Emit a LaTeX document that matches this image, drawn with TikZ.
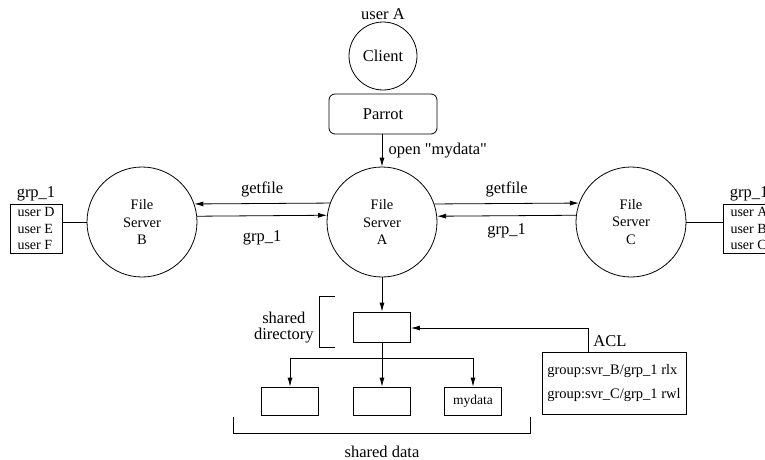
\documentclass[tikz,border=0pt]{standalone}
\usepackage{fontspec}
\setmainfont{Liberation Serif}
\newfontfamily\plainfont{Liberation Serif}
\usetikzlibrary{arrows.meta,positioning}

\begin{document}
\begin{tikzpicture}[x=1pt,y=-1pt,line width=0.8pt,
	every node/.style={font=\fontsize{16.5}{16}\selectfont},
	small/.style={font=\fontsize{14.5}{17.5}\selectfont},
	server/.style={circle,draw,minimum size=110pt,inner sep=0pt,align=center,small},
	users/.style={draw,align=left,minimum width=52pt,minimum height=49pt,inner sep=2pt,font=\fontsize{14}{16.5}\selectfont},
	datbox/.style={draw,minimum width=57pt,minimum height=28pt,inner sep=0pt,font=\fontsize{13.5}{15}\selectfont},
	arr/.style={-{Latex[length=9pt,width=5pt]}}]
	\useasboundingbox (0,0) rectangle (765,460);
	% client side
	\node[circle,draw,minimum size=68pt,inner sep=0pt] (client) at (383,56) {Client};
	\node[above,inner sep=1pt,yshift=1pt] (usera) at (client.north) {user A};
	\node[draw,rounded corners=6pt,minimum width=108pt,minimum height=40pt] (parrot) at (383,114) {Parrot};
	% servers
	\node[server] (srvA) at (382,222) {File\\Server\\A};
	\node[server] (srvB) at (142,222) {File\\Server\\B};
	\node[server] (srvC) at (631,222) {File\\Server\\C};
	\draw[arr] (parrot.south -| srvA) -- node[right,xshift=3pt] {\plainfont open "mydata"} (srvA.north);
	\draw[arr] (srvA.160.9) -- node[above,yshift=3pt] {getfile} (srvB.19.1);
	\draw[arr] (srvB.6.3) -- node[below,yshift=-11pt] {grp\_1} (srvA.173.7);
	\draw[arr] (srvA.19.1) -- node[above,yshift=3pt] {getfile} (srvC.160.9);
	\draw[arr] (srvC.173.7) -- node[below,yshift=-4pt] {grp\_1} (srvA.6.3);
	% groups
	\node[users] (grpB) at (36,228.5) {user D\\user E\\user F};
	\node[above,inner sep=2pt] (grpBlabel) at (grpB.north) {grp\_1};
	\draw (srvB.west) -- (srvB.west -| grpB.east);
	\node[users] (grpC) at (749,228.5) {user A\\user B\\user C};
	\node[above,inner sep=2pt] (grpClabel) at (grpC.north) {grp\_1};
	\draw (srvC.east) -- (srvC.east -| grpC.west);
	% shared directory
	\node[draw,minimum width=57pt,minimum height=30pt,inner sep=0pt] (dir) at (382,327) {};
	\draw[arr] (srvA.south) -- (dir.north);
	\draw (335,296) -- (319,296) -- (319,347) -- (335,347);
	\node[align=center,anchor=east,inner sep=0pt] (dirlabel) at (314,328) {shared\\directory};
	% shared data
	\node[datbox] (d1) at (290,401) {};
	\node[datbox] (d2) at (382,401) {};
	\node[datbox] (d3) at (473,401) {mydata};
	\coordinate (split) at (382,358);
	\draw (dir.south) -- (split);
	\draw (d1.north |- split) -- (d3.north |- split);
	\foreach \b in {d1,d2,d3}
		\draw[arr] (\b.north |- split) -- (\b.north);
	\draw (233,417) -- (233,433) -- (530,433) -- (530,417);
	\node (datalabel) at (382,452) {shared data};
	% acl
	\node[draw,align=left,minimum width=144pt,minimum height=62pt,font=\fontsize{14.5}{24}\selectfont] (acl) at (614,383) {group:svr\_B/grp\_1 rlx\\group:svr\_C/grp\_1 rwl};
	\coordinate (aclcorner) at (588,328);
	\draw[arr] (aclcorner |- acl.north) -- (aclcorner) -- (dir.east |- aclcorner);
	\node[anchor=south west,inner sep=2pt,yshift=3pt,xshift=3pt] (acllabel) at (aclcorner |- acl.north) {ACL};
\end{tikzpicture}
\end{document}
